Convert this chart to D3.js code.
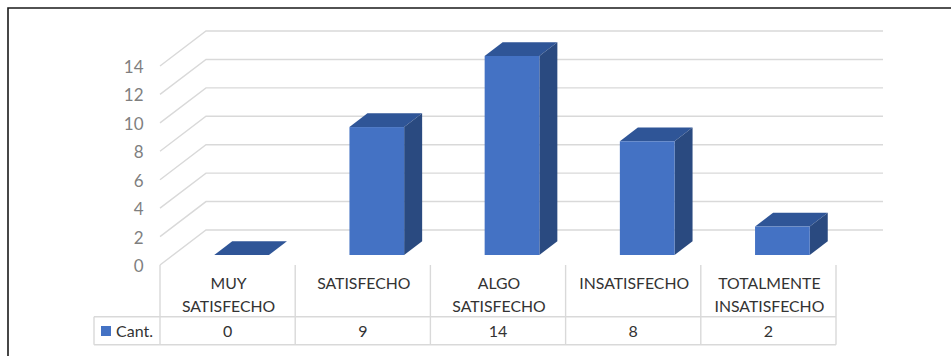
<!DOCTYPE html>
<html>
<head>
<meta charset="utf-8">
<script src="https://cdn.jsdelivr.net/npm/d3@7/dist/d3.min.js"></script>
<style>
html,body{margin:0;padding:0;background:#fff;overflow:hidden}
text{font-family:Lato,"Open Sans","Noto Sans",sans-serif}
</style>
</head>
<body>
<script>
const categories = [["MUY","SATISFECHO"],["SATISFECHO"],["ALGO","SATISFECHO"],["INSATISFECHO"],["TOTALMENTE","INSATISFECHO"]];
const values = [0, 9, 14, 8, 2];
const ticks = [0, 2, 4, 6, 8, 10, 12, 14];
const seriesName = "Cant.";

const width = 951, height = 356;
const svg = d3.select("body").append("svg").attr("width", width).attr("height", height).style("display", "block");

// Chart border: only the top and left edges fall inside the page
svg.append("path").attr("d", "M8,356V8H951").attr("fill", "none")
  .attr("stroke", "#1a1a1a").attr("stroke-width", 1.6);

const y = d3.scaleLinear().domain([0, 14]).range([265, 66]);
const x = d3.scaleBand().domain(d3.range(categories.length)).range([160, 836]);
const wall = {dx: 46, dy: -35};
const depth = {dx: 18, dy: -13.7};
const barOffsetY = -10;
const barW = 54.7;
const gridRight = 883;

// Gridlines run along the floor edge, then across the back wall
const grid = svg.append("g").attr("fill", "none").attr("stroke", "#d9d9d9").attr("stroke-width", 1.4);
grid.selectAll("path").data(ticks).join("path")
  .attr("d", t => d3.line()([[x.range()[0], y(t)], [x.range()[0] + wall.dx, y(t) + wall.dy], [gridRight, y(t) + wall.dy]]));

// Value axis labels
svg.append("g").selectAll("text").data(ticks).join("text")
  .attr("x", 143.5).attr("y", t => y(t) + 7)
  .attr("text-anchor", "end").attr("font-size", 17).attr("fill", "#7f7f7f")
  .text(t => t);

// Three-sided bars
const barX = i => x(i) + (x.bandwidth() - barW) / 2 + 14;
const base = y(0) + barOffsetY;
const barTop = v => y(v) + barOffsetY;
const bars = svg.append("g");

bars.selectAll("path.cap").data(values).join("path").attr("class", "cap").attr("fill", "#2f5597")
  .attr("d", (v, i) => d3.line()([
    [barX(i), barTop(v)], [barX(i) + depth.dx, barTop(v) + depth.dy],
    [barX(i) + barW + depth.dx, barTop(v) + depth.dy], [barX(i) + barW, barTop(v)]]) + "Z");
bars.selectAll("path.side").data(values).join("path").attr("class", "side").attr("fill", "#2a4a80")
  .attr("d", (v, i) => d3.line()([
    [barX(i) + barW, barTop(v)], [barX(i) + barW + depth.dx, barTop(v) + depth.dy],
    [barX(i) + barW + depth.dx, base + depth.dy], [barX(i) + barW, base]]) + "Z");
bars.selectAll("rect").data(values).join("rect").attr("fill", "#4472c4")
  .attr("x", (v, i) => barX(i)).attr("y", v => barTop(v))
  .attr("width", barW).attr("height", v => base - barTop(v));

// Data table below the plot
const tableTop = 316.7, tableBottom = 344.7, tableLeft = 94;
const rule = svg.append("g").attr("stroke", "#d9d9d9").attr("stroke-width", 1.4);
d3.range(categories.length + 1).forEach(i => {
  const px = i < categories.length ? x(i) : x.range()[1];
  rule.append("line").attr("x1", px).attr("x2", px).attr("y1", y(0)).attr("y2", tableBottom);
});
[tableTop, tableBottom].forEach(py => rule.append("line")
  .attr("x1", tableLeft).attr("x2", x.range()[1]).attr("y1", py).attr("y2", py));
rule.append("line").attr("x1", tableLeft).attr("x2", tableLeft).attr("y1", tableTop).attr("y2", tableBottom);

// Category headers, wrapped onto up to two lines
const heads = svg.append("g").attr("text-anchor", "middle").attr("font-size", 15.8).attr("fill", "#333");
categories.forEach((lines, i) => {
  lines.forEach((line, k) => heads.append("text")
    .attr("x", x(i) + x.bandwidth() / 2 + 1).attr("y", 289 + k * 22.5).text(line));
});

// Value row and legend key
svg.append("g").attr("text-anchor", "middle").attr("font-size", 16).attr("fill", "#333")
  .selectAll("text").data(values).join("text")
  .attr("x", (v, i) => x(i) + x.bandwidth() / 2).attr("y", 336.5).text(v => v);
svg.append("rect").attr("x", 101).attr("y", 326).attr("width", 10).attr("height", 10).attr("fill", "#4472c4");
svg.append("text").attr("x", 116).attr("y", 336.5).attr("font-size", 16).attr("fill", "#333").text(seriesName);
</script>
</body>
</html>
